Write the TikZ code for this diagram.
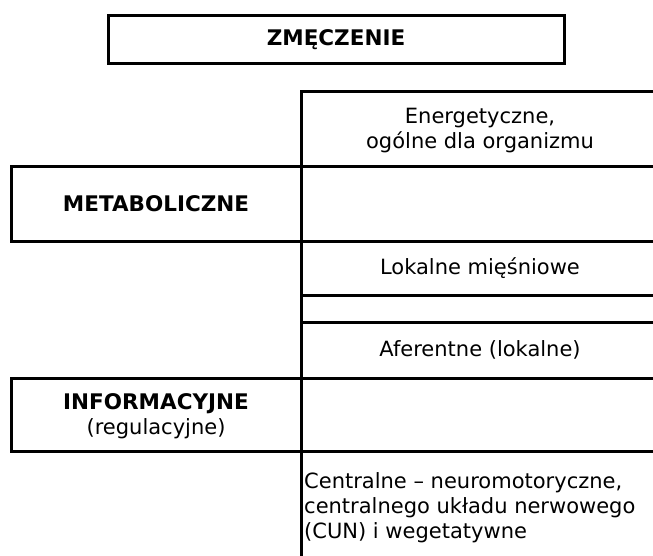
\documentclass[tikz,border=0pt]{standalone}
\usepackage{fontspec}
\setmainfont{DejaVu Sans}
\begin{document}
\begin{tikzpicture}[x=1pt,y=-1pt,
  rule/.style={line width=3pt,line cap=rect},
  cell/.style={inner sep=0pt,font=\fontsize{21}{25}\selectfont,align=center},
  head/.style={cell,font=\fontsize{21.5}{25}\selectfont\bfseries}]
\useasboundingbox (0,0) rectangle (653,555);
% title box
\node[head,draw,line width=3pt,minimum width=456pt,minimum height=48pt] (title) at (336,39.5) {ZMĘCZENIE};
% right column rules
\draw[rule] (301,556) -- (301,91) -- (656,91);
\draw[rule] (11,166) rectangle (656,241);
\draw[rule] (301,295) -- (656,295);
\draw[rule] (301,322) -- (656,322);
\draw[rule] (11,378) rectangle (656,451);
% texts
\node[cell] (energ) at (480,130.5) {Energetyczne,\\ogólne dla organizmu};
\node[head] (metab) at (156,204) {METABOLICZNE};
\node[cell] (lok) at (480,268) {Lokalne mięśniowe};
\node[cell] (afer) at (480,350) {Aferentne (lokalne)};
\node[cell] (info) at (156,416.5) {{\fontsize{21.5}{25}\selectfont\bfseries INFORMACYJNE}\\(regulacyjne)};
\node[cell,align=left,anchor=west] (centr) at (304,508) {Centralne – neuromotoryczne,\\centralnego układu nerwowego\\(CUN) i wegetatywne};
\end{tikzpicture}
\end{document}
